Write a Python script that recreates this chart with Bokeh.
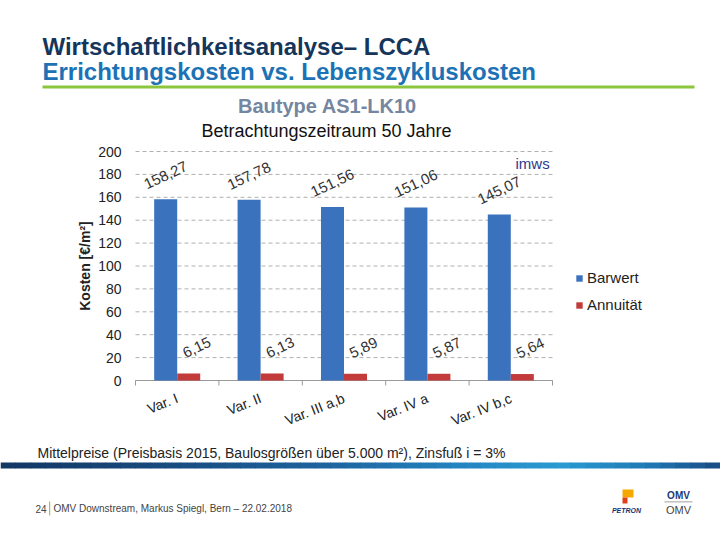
from bokeh.plotting import figure
from bokeh.models import (Range1d, LinearAxis, FixedTicker, ColumnDataSource, LabelSet,
                          Legend, LegendItem)
from bokeh.core.properties import value
from bokeh.transform import dodge
from bokeh.embed import file_html
from bokeh.resources import INLINE
import numpy as np

# ---------------- data ----------------
categories = ["Var. I", "Var. II", "Var. III a,b", "Var. IV a", "Var. IV b,c"]
barwert = [158.27, 157.78, 151.56, 151.06, 145.07]
annuitaet = [6.15, 6.13, 5.89, 5.87, 5.64]
y_ticks = [0, 20, 40, 60, 80, 100, 120, 140, 160, 180, 200]
series_names = ["Barwert", "Annuität"]

title1 = "Wirtschaftlichkeitsanalyse– LCCA"
title2 = "Errichtungskosten vs. Lebenszykluskosten"
chart_title = "Bautype AS1-LK10"
chart_subtitle = "Betrachtungszeitraum 50 Jahre"
y_label = "Kosten [€/m²]"
note = "Mittelpreise (Preisbasis 2015, Baulosgrößen über 5.000 m²), Zinsfuß i = 3%"
footer = "OMV Downstream, Markus Spiegl, Bern – 22.02.2018"
page_no = "24"

def fmt(v):
    return f"{v:.2f}".replace(".", ",")

N = len(categories)
cat_pos = [i + 0.5 for i in range(N)]          # slot centres of the categorical scale
src = ColumnDataSource(dict(
    pos=cat_pos,
    barwert=barwert,
    annuitaet=annuitaet,
    bw_lbl=[fmt(v) for v in barwert],
    an_lbl=[fmt(v) for v in annuitaet],
))

# ---------------- page & chart geometry ----------------
FONT = "Liberation Sans"
W, H = 720, 540
FL, FR, FT, FB = 135, 552, 151, 380   # chart plot area in page pixels
YMAX = 200
sx = (FR - FL) / N
sy = (FB - FT) / YMAX

p = figure(width=W, height=H, x_range=Range1d(0, W), y_range=Range1d(H, 0),
           output_backend="svg", toolbar_location=None,
           x_axis_location=None, y_axis_location=None, min_border=0)
p.min_border_left = p.min_border_right = p.min_border_top = p.min_border_bottom = 0
p.outline_line_color = None
p.grid.visible = False
p.background_fill_color = "white"
p.border_fill_color = "white"

# chart scales (mapped onto the plot area of the slide)
p.extra_x_ranges = {"cx": Range1d(-FL / sx, (W - FL) / sx)}
p.extra_y_ranges = {"cy": Range1d(-(H - FB) / sy, YMAX + FT / sy)}
C = dict(x_range_name="cx", y_range_name="cy")

# gridlines
p.segment(x0=[0] * len(y_ticks), x1=[N] * len(y_ticks), y0=y_ticks, y1=y_ticks,
          line_color="#b0b0b0", line_dash="4 3", line_width=1, **C)

# y axis
ya = LinearAxis(fixed_location=0, bounds=(0, YMAX), ticker=FixedTicker(ticks=y_ticks), **C)
ya.axis_line_color = None
ya.major_tick_line_color = None
ya.minor_tick_line_color = None
ya.major_label_text_font = FONT
ya.major_label_text_font_size = "14px"
ya.major_label_text_color = "#222222"
ya.major_label_standoff = 8
ya.axis_label = y_label
ya.axis_label_text_font = FONT
ya.axis_label_text_font_style = "bold"
ya.axis_label_text_font_size = "14px"
ya.axis_label_text_color = "#222222"
ya.axis_label_standoff = 2
p.add_layout(ya, "left")

# x axis line and separator ticks at the category boundaries
bounds = list(range(N + 1))
p.segment(x0=[0], x1=[N], y0=[0], y1=[0], line_color="#9a9a9a", line_width=1, **C)
p.segment(x0=bounds, x1=bounds, y0=[0] * len(bounds), y1=[-5 / sy] * len(bounds),
          line_color="#9a9a9a", line_width=1, **C)

# x axis: category labels
xc = LinearAxis(fixed_location=0, bounds=(0, N), ticker=FixedTicker(ticks=cat_pos),
                major_label_overrides={pos: c for pos, c in zip(cat_pos, categories)}, **C)
xc.axis_line_color = None
xc.major_tick_line_color = None
xc.minor_tick_line_color = None
xc.major_label_orientation = 0.38
xc.major_label_text_font = FONT
xc.major_label_text_font_size = "14px"
xc.major_label_text_color = "#222222"
xc.major_label_standoff = 11
p.add_layout(xc, "below")

# bars
BW = 0.276
r1 = p.vbar(x=dodge("pos", -BW / 2), top="barwert", width=BW, source=src,
            fill_color="#3a72bd", line_color=None, **C)
r2 = p.vbar(x=dodge("pos", BW / 2), top="annuitaet", width=BW, source=src,
            fill_color="#c23a3a", line_color=None, **C)

lbl_style = dict(angle=0.44, text_align="center", text_baseline="middle",
                 text_font=value(FONT), text_font_size="15px", text_color="#333333")
p.add_layout(LabelSet(x=dodge("pos", -BW / 2), y="barwert", text="bw_lbl",
                      y_offset=24, source=src, **C, **lbl_style))
p.add_layout(LabelSet(x=dodge("pos", BW / 2), y="annuitaet", text="an_lbl",
                      x_offset=8, y_offset=26, source=src, **C, **lbl_style))

# legend
lg = Legend(items=[LegendItem(label=series_names[0], renderers=[r1]),
                   LegendItem(label=series_names[1], renderers=[r2])],
            location=(575, H - 313))
lg.background_fill_alpha = 0
lg.border_line_color = None
lg.margin = 0
lg.padding = 0
lg.glyph_width = 8
lg.glyph_height = 8
lg.label_height = 14
lg.spacing = 10
lg.label_standoff = 4
lg.label_text_font = FONT
lg.label_text_font_size = "15px"
lg.label_text_color = "#222222"
p.add_layout(lg)

# ---------------- slide texts & decorations (page pixels) ----------------
def put(X, Y, s, size, color="#222222", style="normal", align="left"):
    p.text(x=[X], y=[Y], text=[s], text_font=value(FONT), text_font_size=size,
           text_color=color, text_font_style=style, text_align=align,
           text_baseline="middle")

put(42, 46, title1, "24px", color="#15365a", style="bold")
put(42, 71, title2, "24px", color="#1c72b4", style="bold")
p.quad(left=[42], right=[694], top=[85], bottom=[88], fill_color="#8cc63f", line_color=None)
put(327, 105, chart_title, "20px", color="#7486a0", style="bold", align="center")
put(326, 130, chart_subtitle, "18px", color="#111111", align="center")
put(515, 163, "imws", "15px", color="#2d3a8c")
put(37, 452, note, "14px", color="#222222")

stops = ["#123763", "#184a7e", "#1d64a0", "#258ac4", "#2a9bd2", "#1f78b4", "#174a80"]
stop_x = [0, 160, 330, 480, 560, 650, 720]
def hex2rgb(h):
    return np.array([int(h[i:i + 2], 16) for i in (1, 3, 5)], dtype=float)
n = 48
edges = np.linspace(0, W, n + 1)
cols = []
for i in range(n):
    xm = (edges[i] + edges[i + 1]) / 2
    j = max(0, min(len(stop_x) - 2, int(np.searchsorted(stop_x, xm) - 1)))
    t = (xm - stop_x[j]) / (stop_x[j + 1] - stop_x[j])
    c = hex2rgb(stops[j]) * (1 - t) + hex2rgb(stops[j + 1]) * t
    cols.append("#%02x%02x%02x" % tuple(int(round(v)) for v in c))
p.quad(left=edges[:-1], right=edges[1:] + 0.6, top=[462] * n, bottom=[468] * n,
       fill_color=cols, line_color=None)

put(35, 508, page_no, "10px", color="#444444")
p.quad(left=[48.5], right=[49.7], top=[501], bottom=[515], fill_color="#a6c34a", line_color=None)
put(53, 508, footer, "10px", color="#444444")
# logos (approximation)
p.quad(left=[622], right=[633], top=[489], bottom=[497], fill_color="#f5a800", line_color=None)
p.quad(left=[622], right=[627], top=[497], bottom=[503], fill_color="#e0401e", line_color=None)
put(626, 510, "PETRON", "7px", color="#1b2f6e", style="bold italic", align="center")
put(678, 495, "OMV", "10px", color="#1b3a78", style="bold", align="center")
p.quad(left=[664], right=[692], top=[501], bottom=[501.8], fill_color="#888888", line_color=None)
put(678, 509, "OMV", "11px", color="#444444", align="center")

open("out.html", "w").write(file_html(p, INLINE))
